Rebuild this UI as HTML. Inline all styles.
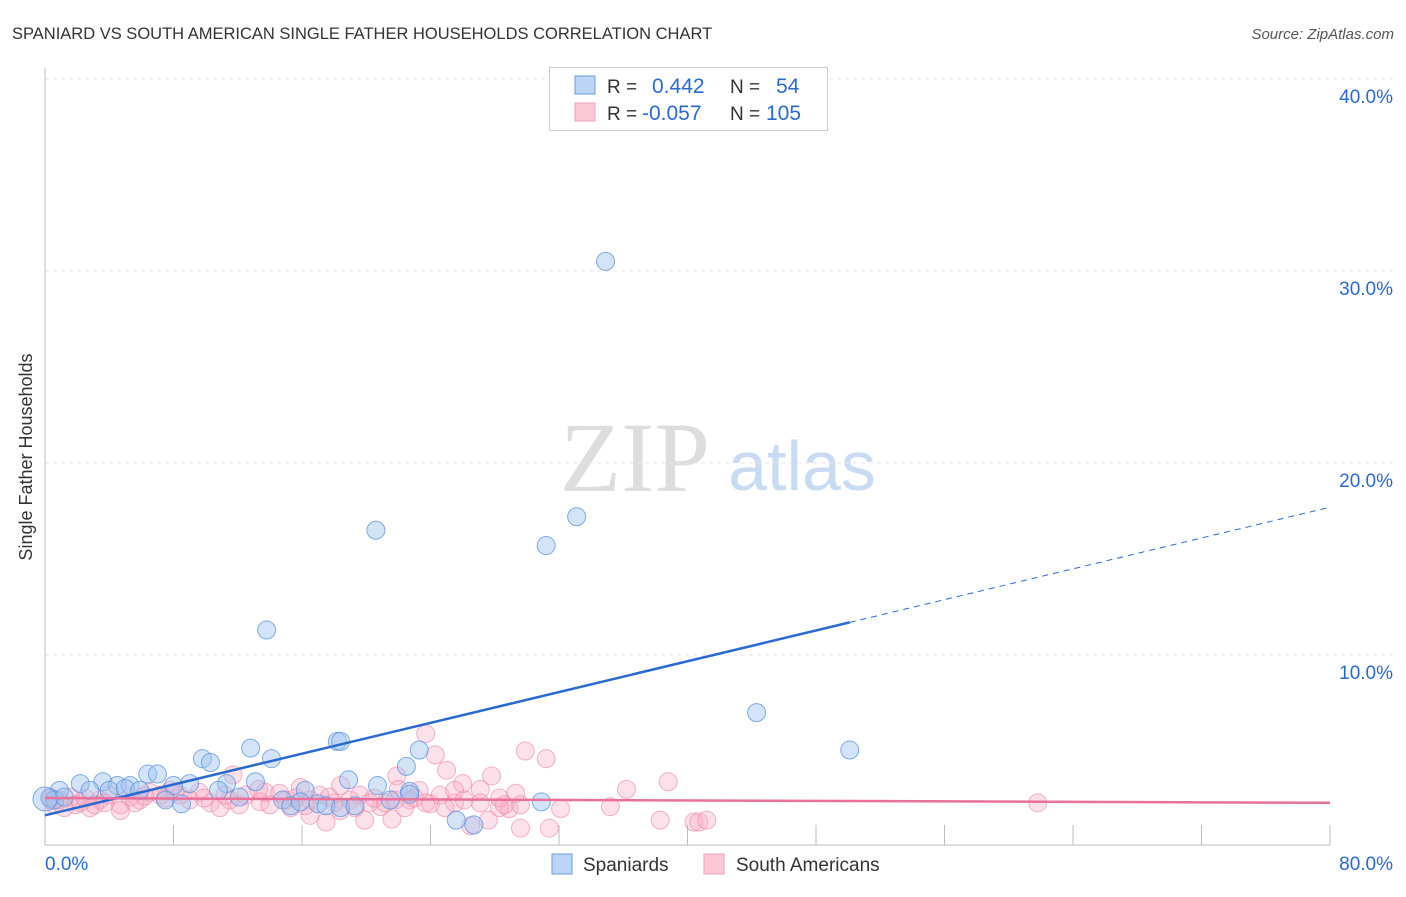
<!DOCTYPE html>
<html><head><meta charset="utf-8"><style>
body{margin:0;background:#fff;font-family:"Liberation Sans",sans-serif}
svg text{font-family:"Liberation Sans",sans-serif}
</style></head><body>
<svg id="c" width="1406" height="892">
<text x="12" y="39" font-size="16.5" fill="#333">SPANIARD VS SOUTH AMERICAN SINGLE FATHER HOUSEHOLDS CORRELATION CHART</text>
<text x="1394" y="39" font-size="15" fill="#555" font-style="italic" text-anchor="end">Source: ZipAtlas.com</text>
<text x="32" y="457" font-size="18" fill="#333" text-anchor="middle" transform="rotate(-90 32 457)">Single Father Households</text>
<g><text x="635" y="491" font-size="100" fill="#ddd" style="font-family:'Liberation Serif',serif" text-anchor="middle">ZIP</text><text x="802" y="490" font-size="70" fill="#c9daf3" text-anchor="middle">atlas</text></g>
<g id="grid"></g><g id="pink"></g><g id="blue"></g><g id="lines"></g>
<g>
<rect x="549.5" y="67.5" width="278" height="63" fill="#fff" stroke="#ccc"/>
<rect x="575" y="76" width="20" height="18" fill="#bcd4f5" stroke="#6a9de0"/>
<rect x="575" y="103" width="20" height="18" fill="#fcc8d6" stroke="#f0a0b8"/>
<text x="607" y="93" font-size="19" fill="#333">R = </text><text x="652" y="93" font-size="21" fill="#2a6ad0">0.442</text>
<text x="730" y="93" font-size="19" fill="#333">N = </text><text x="776" y="93" font-size="21" fill="#2a6ad0">54</text>
<text x="607" y="120" font-size="19" fill="#333">R = </text><text x="642" y="120" font-size="21" fill="#2a6ad0">-0.057</text>
<text x="730" y="120" font-size="19" fill="#333">N = </text><text x="766" y="120" font-size="21" fill="#2a6ad0">105</text>
</g>
<g>
<rect x="552" y="854" width="20" height="20" fill="#bcd4f5" stroke="#6a9de0"/>
<text x="583" y="871" font-size="19" fill="#333">Spaniards</text>
<rect x="704" y="854" width="20" height="20" fill="#fcc8d6" stroke="#f0a0b8"/>
<text x="736" y="871" font-size="19" fill="#333">South Americans</text>
</g>
</svg>
<script>
const yTicks=[10,20,30,40];
const xTickLabels=["0.0%","80.0%"];
const blueX=[34.9,20.6,31.2,33.1,13.8,44.3,50.1,18.2,18.4,12.8,14.1,9.8,10.3,23.3,22.5,6.4,7.0,2.2,3.6,4.5,5.3,9.0,8.0,11.3,13.1,16.2,18.9,20.7,22.7,30.9,25.6,26.7,0.9,2.8,0.3,0.6,1.2,4.0,7.5,8.5,10.8,12.1,14.8,15.3,15.9,17.0,17.5,18.4,19.3,21.5,22.7,5.0,5.9,0];
const blueY=[30.5,16.5,15.7,17.2,11.3,7.0,5.05,5.5,5.5,5.15,4.6,4.6,4.4,5.05,4.2,3.8,3.8,3.3,3.4,3.2,3.2,3.3,3.2,3.3,3.4,2.95,3.5,3.2,2.9,2.35,1.4,1.15,2.95,2.95,2.55,2.45,2.6,2.95,2.45,2.25,2.95,2.6,2.45,2.15,2.35,2.25,2.15,2.05,2.15,2.45,2.75,3.05,2.95,2.5];
const pinkX=[23.7,24.3,29.9,31.2,38.8,25.0,27.8,21.9,26.0,27.1,22.0,35.2,36.2,38.3,40.4,40.7,41.2,61.8,31.4,29.6,26.5,27.6,28.3,28.9,29.3,32.1,25.5,24.0,20.9,21.6,17.5,18.4,15.9,14.6,13.3,11.7,11.5,9.6,10.3,8.4,7.2,5.9,4.7,3.4,2.2,1.6,0.9,0.3,4.0,5.3,6.5,7.8,9.0,12.1,13.4,15.3,16.5,17.1,17.7,19.0,19.6,20.2,22.7,23.3,24.6,27.1,28.3,29.6,19.9,18.4,16.5,14.0,10.9,4.7,2.8,1.9,0.6,1.2,2.5,3.1,3.7,5.6,6.2,7.5,8.1,9.9,11.2,12.5,13.7,15.0,15.6,16.2,18.0,19.3,20.5,21.2,21.8,22.4,23.0,23.7,24.9,25.5,26.1,28.6,0.4];
const pinkY=[5.9,4.8,5.0,4.6,3.4,4.0,3.7,3.7,3.3,3.0,3.0,2.1,3.0,1.4,1.3,1.3,1.4,2.3,0.98,0.98,1.1,1.4,2.55,2.0,2.8,2.0,2.3,2.25,2.1,1.45,1.3,1.9,3.1,2.8,3.0,3.75,2.45,2.85,2.3,2.7,2.7,2.45,2.2,2.45,2.3,2.6,2.45,2.6,2.7,2.6,2.85,2.95,2.45,2.2,2.35,2.05,2.45,2.7,2.6,2.45,2.7,2.3,2.45,2.95,2.7,2.3,2.05,2.2,1.4,3.2,1.65,2.2,2.05,1.9,2.05,2.2,2.2,2.05,2.55,2.2,2.3,2.3,2.65,2.55,2.85,2.55,2.7,2.7,2.85,2.45,2.55,2.15,2.3,2.05,2.55,2.3,2.45,2.05,2.55,2.3,2.05,2.95,2.45,2.2,2.45];
const blueFit=[1.65,0.2006], pinkFit=[2.55,-0.0031];
const sx=v=>45+v*1285/80, sy=v=>847-v*19.2;
const NS="http://www.w3.org/2000/svg";
function mk(tag,attrs,parent){const e=document.createElementNS(NS,tag);for(const k in attrs)e.setAttribute(k,attrs[k]);parent.appendChild(e);return e;}
const g=document.getElementById('grid');
yTicks.forEach(t=>{
 const l=mk('line',{x1:45,x2:1394,y1:sy(t),y2:sy(t),stroke:'#e6e6e6','stroke-dasharray':'4,4'},g);
 
 
 const tx=mk('text',{x:1393,y:sy(t)+24,'font-size':19,fill:'#2a6ad0','text-anchor':'end'},g);
 tx.textContent=t.toFixed(1)+'%';
 
 
});
const ax=mk('line',{x1:45,x2:45,y1:68,y2:845,stroke:'#bbb'},g);


const bx=mk('line',{x1:45,x2:1330,y1:845,y2:845,stroke:'#bbb'},g);


for(let i=1;i<=10;i++){const t=mk('line',{x1:sx(i*8),x2:sx(i*8),y1:825,y2:845,stroke:'#bbb'},g);
 
 }
[[0,'start',45],[80,'end',1393]].forEach((a,i)=>{const t=mk('text',{x:a[2],y:870,'font-size':19,fill:'#2a6ad0','text-anchor':a[1]},g);t.textContent=xTickLabels[i];
 
 });
const pg=document.getElementById('pink'),bg=document.getElementById('blue');
pinkX.forEach((x,i)=>{const c=mk('circle',{cx:sx(x),cy:sy(pinkY[i]),r:9,fill:'rgba(248,170,195,0.35)',stroke:'rgba(236,140,170,0.65)'},pg);
 
 });
blueX.forEach((x,i)=>{const c=mk('circle',{cx:sx(x),cy:sy(blueY[i]),r:i==blueX.length-1?12:9,fill:'rgba(160,196,240,0.45)',stroke:'rgba(90,145,220,0.75)'},bg);
 
 });
const lg=document.getElementById('lines');
const f=(fit,x)=>fit[0]+fit[1]*x;
let l1=mk('line',{x1:sx(0),y1:sy(f(blueFit,0)),x2:sx(50.1),y2:sy(f(blueFit,50.1)),stroke:'#2a6ad0','stroke-width':2.5},lg);


let l2=mk('line',{x1:sx(50.1),y1:sy(f(blueFit,50.1)),x2:sx(80),y2:sy(f(blueFit,80)),stroke:'#2a6ad0','stroke-width':1,'stroke-dasharray':'6,5'},lg);


let l3=mk('line',{x1:sx(0),y1:sy(f(pinkFit,0)),x2:sx(80),y2:sy(f(pinkFit,80)),stroke:'#e8709a','stroke-width':2.5},lg);


</script>
</body></html>
